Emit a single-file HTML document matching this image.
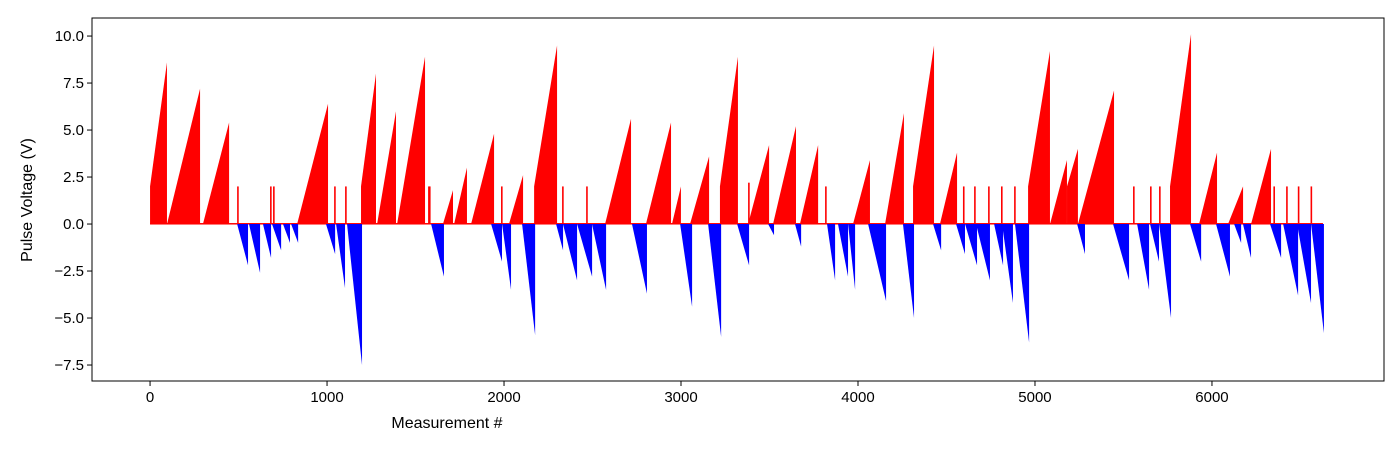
<!DOCTYPE html>
<html><head><meta charset="utf-8"><style>
html,body{margin:0;padding:0;background:#fff;}
svg{display:block;font-family:"Liberation Sans","DejaVu Sans",sans-serif;}
</style></head><body>
<svg id="chart" width="1400" height="450">
<rect x="0" y="0" width="1400" height="450" fill="#fff"/>
<g id="marks"></g>
<g id="axes"></g>
<text x="447" y="428" font-size="16" text-anchor="middle" fill="#000">Measurement #</text>
<text transform="translate(32,200) rotate(-90)" font-size="16" text-anchor="middle" fill="#000">Pulse Voltage (V)</text>
</svg>
<script>
const redStart=[0,96,299,831,1192,1283,1396,1655,1718,1814,2028,2170,2571,2802,2949,3051,3220,3379,3520,3672,3972,4153,4311,4463,4961,5085,5181,5243,5763,5927,6091,6221];
const redEnd=[90,277,441,1000,1271,1384,1548,1706,1785,1938,2102,2294,2712,2938,2994,3153,3316,3492,3644,3769,4062,4254,4424,4554,5079,5175,5237,5441,5876,6023,6170,6328];
const redFrom=[2.0,0,0,0,2.0,0,0,0,0,0,0,2.0,0,0,0,0,2.0,0,0,0,0,0,2.0,0,2.0,0,2.0,0,2.0,0,0,0];
const redTo=[8.6,7.2,5.4,6.4,8.0,6.0,8.9,1.8,3.0,4.8,2.6,9.5,5.6,5.4,2.0,3.6,8.9,4.2,5.2,4.2,3.4,5.9,9.5,3.8,9.2,3.4,4.0,7.1,10.1,3.8,2.0,4.0];
const spikeIdx=[492,678,695,1040,1102,1571,1576,1983,2328,2464,3379,3814,4593,4656,4735,4808,4882,5554,5650,5701,6347,6419,6485,6557];
const spikeVal=[2.0,2.0,2.0,2.0,2.0,2.0,2.0,2.0,2.0,2.0,2.2,2.0,2.0,2.0,2.0,2.0,2.0,2.0,2.0,2.0,2.0,2.0,2.0,2.0];
const blueStart=[492,559,638,689,751,797,994,1051,1113,1588,1927,1989,2102,2294,2333,2413,2497,2723,2995,3153,3317,3492,3644,3825,3887,3944,4057,4254,4424,4554,4605,4667,4769,4814,4887,5238,5441,5577,5650,5701,5876,6023,6125,6175,6328,6402,6481,6560];
const blueEnd=[548,616,678,735,785,831,1040,1096,1192,1655,1983,2034,2170,2328,2407,2492,2571,2802,3057,3221,3379,3520,3673,3865,3938,3978,4153,4311,4464,4599,4667,4740,4814,4870,4961,5277,5526,5639,5695,5763,5933,6096,6159,6215,6385,6481,6554,6627];
const blueMin=[-2.2,-2.6,-1.8,-1.4,-1.0,-1.0,-1.6,-3.4,-7.5,-2.8,-2.0,-3.5,-5.9,-1.4,-3.0,-2.8,-3.5,-3.7,-4.4,-6.0,-2.2,-0.6,-1.2,-3.0,-2.8,-3.5,-4.1,-5.0,-1.4,-1.6,-2.2,-3.0,-2.2,-4.2,-6.3,-1.6,-3.0,-3.5,-2.0,-5.0,-2.0,-2.8,-1.0,-1.8,-1.8,-3.8,-4.2,-5.8];
const xTicks=[0,1000,2000,3000,4000,5000,6000];
const yTicks=[-7.5,-5.0,-2.5,0.0,2.5,5.0,7.5,10.0];
const lastIdx=6627;

const L=92,R=1384,T=18,B=381;
const X0=-328,X1=6972,Y0=-8.35,Y1=10.96;
const xs=v=>L+(v-X0)/(X1-X0)*(R-L);
const ys=v=>B-(v-Y0)/(Y1-Y0)*(B-T);
const NS="http://www.w3.org/2000/svg";
const marks=document.getElementById('marks');
const axes=document.getElementById('axes');
function poly(pts,fill){const p=document.createElementNS(NS,'polygon');p.setAttribute('points',pts.map(q=>q.join(',')).join(' '));p.setAttribute('fill',fill);marks.appendChild(p);return p;}

const zl=document.createElementNS(NS,'rect');
zl.setAttribute('x',xs(0));zl.setAttribute('y',ys(0)-1);zl.setAttribute('width',xs(lastIdx)-xs(0));zl.setAttribute('height',1.5);zl.setAttribute('fill','#ff0000');


marks.appendChild(zl);

for(let i=0;i<redStart.length;i++){
  const p=poly([[xs(redStart[i]),ys(0)],[xs(redStart[i]),ys(redFrom[i])],[xs(redEnd[i])+1,ys(redTo[i])],[xs(redEnd[i])+1,ys(0)]],'#ff0000');
  
  
}
for(let i=0;i<blueStart.length;i++){
  const p=poly([[xs(blueStart[i]),ys(0)],[xs(blueEnd[i])+1,ys(blueMin[i])],[xs(blueEnd[i])+1,ys(0)]],'#0000ff');
  
  
}
for(let i=0;i<spikeIdx.length;i++){
  const r=document.createElementNS(NS,'rect');
  r.setAttribute('x',xs(spikeIdx[i]));r.setAttribute('y',ys(spikeVal[i]));r.setAttribute('width',1.6);r.setAttribute('height',ys(0)-ys(spikeVal[i]));r.setAttribute('fill','#ff0000');
  
  
  marks.appendChild(r);
}
const frame=document.createElementNS(NS,'rect');
frame.setAttribute('x',L);frame.setAttribute('y',T);frame.setAttribute('width',R-L);frame.setAttribute('height',B-T);frame.setAttribute('fill','none');frame.setAttribute('stroke','#000');frame.setAttribute('stroke-width','1');


axes.appendChild(frame);
xTicks.forEach(v=>{
  const x=xs(v);
  const l=document.createElementNS(NS,'line');l.setAttribute('x1',x);l.setAttribute('x2',x);l.setAttribute('y1',B);l.setAttribute('y2',B+5);l.setAttribute('stroke','#000');
  
  
  axes.appendChild(l);
  const t=document.createElementNS(NS,'text');t.setAttribute('x',x);t.setAttribute('y',B+21);t.setAttribute('font-size','15');t.setAttribute('text-anchor','middle');t.textContent=v;
  
  
  axes.appendChild(t);
});
yTicks.forEach(v=>{
  const y=ys(v);
  const l=document.createElementNS(NS,'line');l.setAttribute('x1',L-5);l.setAttribute('x2',L);l.setAttribute('y1',y);l.setAttribute('y2',y);l.setAttribute('stroke','#000');
  
  
  axes.appendChild(l);
  const t=document.createElementNS(NS,'text');t.setAttribute('x',L-8);t.setAttribute('y',y+5);t.setAttribute('font-size','15');t.setAttribute('text-anchor','end');t.textContent=(v<0?'\u2212':'')+Math.abs(v).toFixed(1);
  
  
  axes.appendChild(t);
});
</script>
</body></html>
